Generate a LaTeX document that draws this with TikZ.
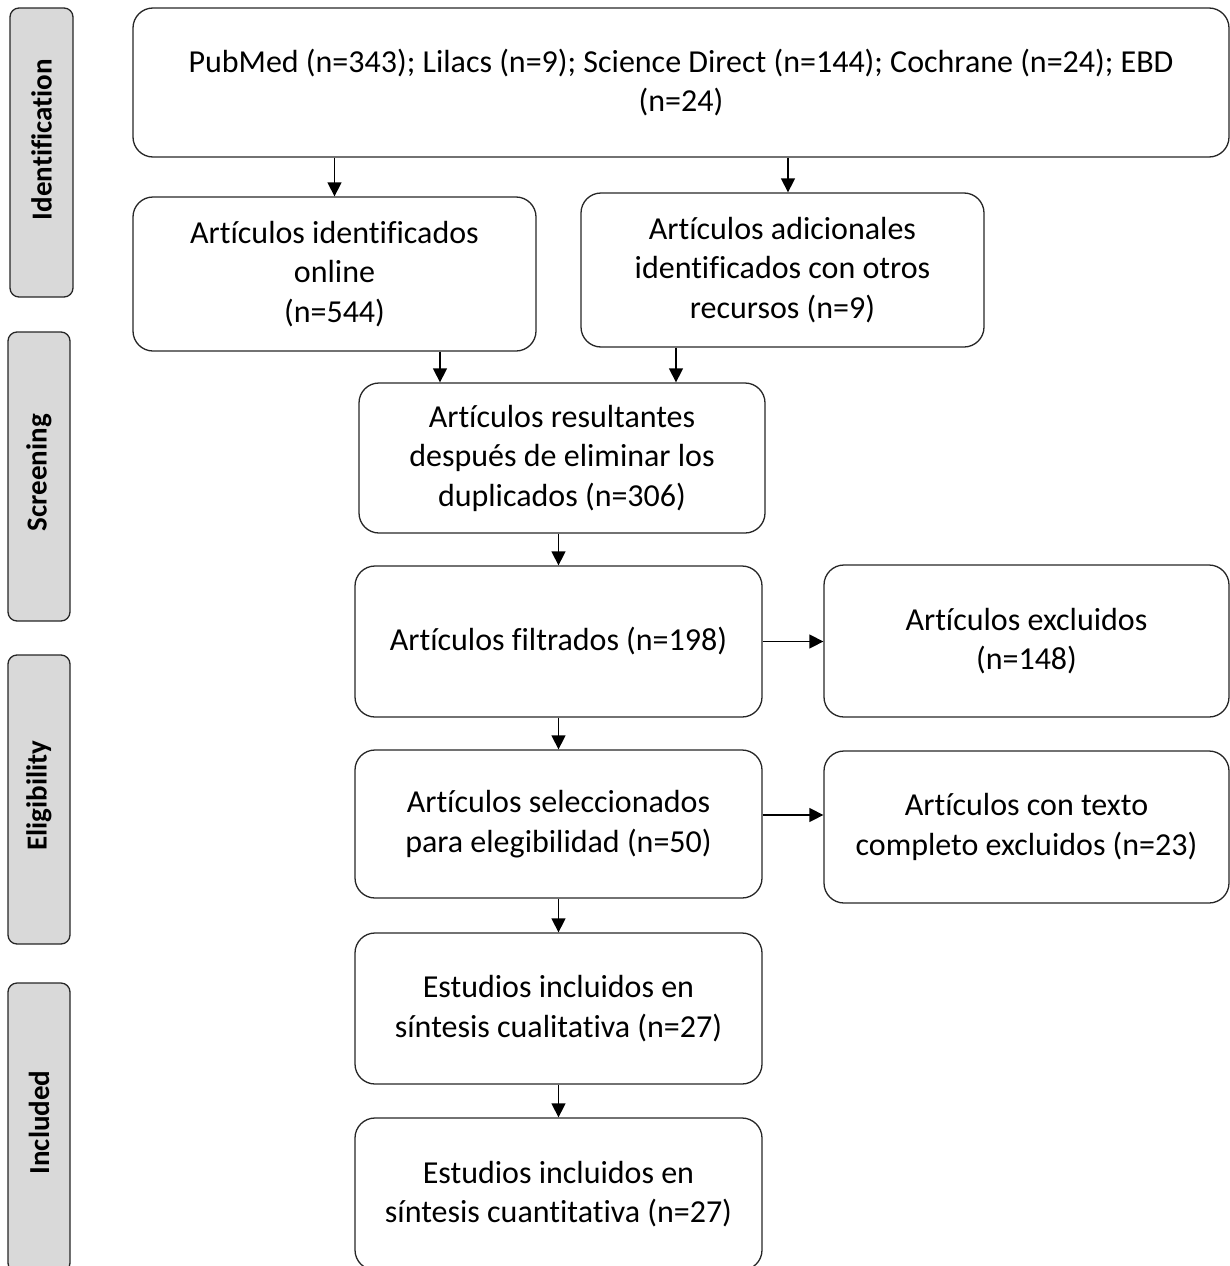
\documentclass[tikz,border=0pt]{standalone}
\usepackage{fontspec}
\setmainfont[Ligatures=NoCommon]{Carlito}
\usetikzlibrary{arrows.meta,calc}
\begin{document}
\begin{tikzpicture}[x=1pt,y=-1pt,
  box/.style={draw=black!85,line width=1.3pt,rounded corners=20pt,align=center,
    inner sep=0pt,font=\fontsize{32}{39.5}\selectfont},
  phase/.style={draw=black!85,line width=1.3pt,fill={rgb,255:red,217;green,217;blue,217},
    rounded corners=9pt,rotate=90,inner sep=0pt,minimum width=289pt,
    font=\fontsize{29}{34}\selectfont\bfseries},
  arr/.style={line width=1.4pt,draw=black,-{Triangle[length=14pt,width=14pt]}}]
\useasboundingbox (0,0) rectangle (1229,1266);
% phase labels
\node[phase,minimum height=63pt] (p1) at (41.5,152.5) {\hspace*{26pt}Identification};
\node[phase,minimum height=62pt] (p2) at (39,476.5) {\hspace*{8pt}Screening};
\node[phase,minimum height=62pt] (p3) at (39,799.5) {\hspace*{8pt}Eligibility};
\node[phase,minimum height=62pt] (p4) at (39,1127.5) {\hspace*{10pt}Included};
% boxes
\node[box,minimum width=1096pt,minimum height=149pt] (top) at (681,82.5)
  {PubMed (n=343); Lilacs (n=9); Science Direct (n=144); Cochrane (n=24); EBD\\(n=24)};
\node[box,minimum width=403pt,minimum height=154pt] (left) at (334.5,274)
  {Artículos identificados\\online\\(n=544)};
\node[box,minimum width=403pt,minimum height=154pt] (right) at (782.5,270)
  {Artículos adicionales\\identificados con otros\\recursos (n=9)};
\node[box,minimum width=406pt,minimum height=150pt] (dup) at (562,458)
  {Artículos resultantes\\después de eliminar los\\duplicados (n=306)};
\node[box,minimum width=407pt,minimum height=151pt] (filt) at (558.5,641.5)
  {Artículos filtrados (n=198)};
\node[box,minimum width=405pt,minimum height=152pt] (excl) at (1026.5,641)
  {Artículos excluidos\\(n=148)};
\node[box,minimum width=407pt,minimum height=148pt] (sel) at (558.5,824)
  {Artículos seleccionados\\para elegibilidad (n=50)};
\node[box,minimum width=405pt,minimum height=152pt] (excl2) at (1026.5,827)
  {Artículos con texto\\completo excluidos (n=23)};
\node[box,minimum width=407pt,minimum height=151pt] (qual) at (558.5,1008.5)
  {Estudios incluidos en\\síntesis cualitativa (n=27)};
\node[box,minimum width=407pt,minimum height=152pt] (quant) at (558.5,1194)
  {Estudios incluidos en\\síntesis cuantitativa (n=27)};
% connectors
\draw[arr] (top.south -| left.north) -- (left.north);
\draw[arr] ([xshift=5.5pt]top.south -| right.north) -- ([xshift=5.5pt]right.north);
\draw[arr] ([xshift=105.5pt]left.south) -- ([xshift=105.5pt]left.south |- dup.north);
\draw[arr] ([xshift=-106.5pt]right.south) -- ([xshift=-106.5pt]right.south |- dup.north);
\draw[arr] (dup.south -| filt.north) -- (filt.north);
\draw[arr] (filt.east) -- (filt.east -| excl.west);
\draw[arr] (filt.south) -- (sel.north);
\draw[arr] ([yshift=9pt]sel.east) -- ([yshift=9pt]sel.east -| excl2.west);
\draw[arr] (sel.south) -- (qual.north);
\draw[arr] (qual.south) -- (quant.north);
\end{tikzpicture}
\end{document}
